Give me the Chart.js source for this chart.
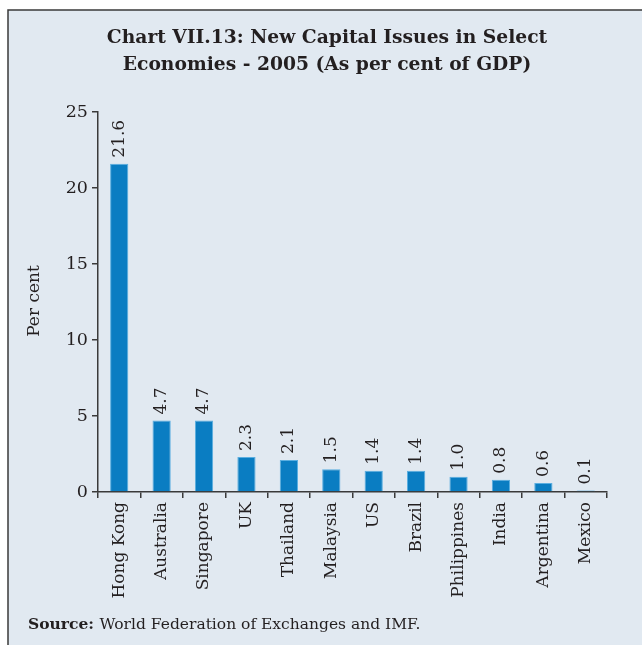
<!DOCTYPE html>
<html>
<head>
<meta charset="utf-8">
<script src="https://cdn.jsdelivr.net/npm/chart.js@4.4.1/dist/chart.umd.min.js"></script>
<style>
  html, body { margin: 0; padding: 0; background: #fff; }
  #wrap { width: 642px; height: 645px; position: relative; }
</style>
</head>
<body>
<div id="wrap"><canvas id="issuesChart" width="642" height="645"></canvas></div>
<script>
// New capital issues, 2005, as per cent of GDP
const economies = ['Hong Kong', 'Australia', 'Singapore', 'UK', 'Thailand', 'Malaysia',
    'US', 'Brazil', 'Philippines', 'India', 'Argentina', 'Mexico'];
const issuesPctGdp = [21.6, 4.7, 4.7, 2.3, 2.1, 1.5, 1.4, 1.4, 1.0, 0.8, 0.6, 0.1];
const yTicks = [0, 5, 10, 15, 20, 25];

const titleLines = ['Chart VII.13: New Capital Issues in Select', 'Economies - 2005 (As per cent of GDP)'];
const serif = '"DejaVu Serif", "Liberation Serif", serif';
const ink = '#231f20';

// panel background, frame, title, y-axis name and source note
const framePlugin = {
    id: 'frame',
    beforeDraw(chart) {
        const ctx = chart.ctx;
        ctx.save();
        ctx.fillStyle = '#fff';
        ctx.fillRect(0, 0, chart.width, chart.height);
        ctx.fillStyle = '#e1e9f1';
        ctx.fillRect(8, 10, chart.width - 8, chart.height - 10);
        ctx.strokeStyle = '#3a3a3a';
        ctx.lineWidth = 1.5;
        ctx.beginPath();
        ctx.moveTo(8, chart.height);
        ctx.lineTo(8, 10);
        ctx.lineTo(chart.width, 10);
        ctx.stroke();
        ctx.restore();
    },
    afterDraw(chart) {
        const ctx = chart.ctx;
        ctx.save();
        ctx.fillStyle = ink;
        ctx.textAlign = 'center';
        ctx.textBaseline = 'middle';
        ctx.font = 'bold 18.7px ' + serif;
        ctx.fillText(titleLines[0], 327, 38);
        ctx.fillText(titleLines[1], 327, 65);

        ctx.translate(35, 301);
        ctx.rotate(-Math.PI / 2);
        ctx.font = '17px ' + serif;
        ctx.fillText('Per cent', 0, 0);
        ctx.setTransform(1, 0, 0, 1, 0, 0);

        ctx.textAlign = 'left';
        ctx.font = 'bold 15.5px ' + serif;
        ctx.fillText('Source:', 28, 625);
        const w = ctx.measureText('Source: ').width;
        ctx.font = '15.5px ' + serif;
        ctx.fillText('World Federation of Exchanges and IMF.', 28 + w, 625);
        ctx.restore();
    }
};

// value written vertically above each bar
const barValues = {
    id: 'barValues',
    afterDatasetsDraw(chart) {
        const ctx = chart.ctx;
        const meta = chart.getDatasetMeta(0);
        ctx.save();
        ctx.fillStyle = ink;
        ctx.font = '17px ' + serif;
        ctx.textAlign = 'left';
        ctx.textBaseline = 'middle';
        meta.data.forEach((bar, i) => {
            ctx.save();
            ctx.translate(bar.x, bar.y - 6);
            ctx.rotate(-Math.PI / 2);
            ctx.fillText(issuesPctGdp[i].toFixed(1), 0, 0);
            ctx.restore();
        });
        ctx.restore();
    }
};

new Chart(document.getElementById('issuesChart'), {
    type: 'bar',
    data: {
        labels: economies,
        datasets: [{
            data: issuesPctGdp,
            backgroundColor: '#0a7dc2',
            borderColor: '#5aaee0',
            borderWidth: 1,
            barPercentage: 0.43,
            categoryPercentage: 1
        }]
    },
    options: {
        responsive: false,
        animation: false,
        layout: { padding: { top: 112, left: 0, right: 35, bottom: 0 } },
        plugins: {
            legend: { display: false },
            tooltip: { enabled: false }
        },
        scales: {
            x: {
                grid: { drawOnChartArea: false, drawTicks: true, tickLength: 6, color: '#3a3a3a', lineWidth: 1.5 },
                border: { color: '#3a3a3a', width: 1.5 },
                ticks: {
                    color: ink,
                    font: { family: serif, size: 17 },
                    minRotation: 90,
                    maxRotation: 90,
                    autoSkip: false,
                    padding: 4
                },
                afterFit(scale) { scale.height = 153; }
            },
            y: {
                min: 0,
                max: 25,
                afterBuildTicks(scale) { scale.ticks = yTicks.map(v => ({ value: v })); },
                grid: { drawOnChartArea: false, drawTicks: true, tickLength: 6, color: '#3a3a3a', lineWidth: 1.5 },
                border: { color: '#3a3a3a', width: 1.5 },
                ticks: {
                    color: ink,
                    font: { family: serif, size: 17.5 },
                    padding: 4
                },
                afterFit(scale) { scale.width = 98; }
            }
        }
    },
    plugins: [framePlugin, barValues]
});
</script>
</body>
</html>
